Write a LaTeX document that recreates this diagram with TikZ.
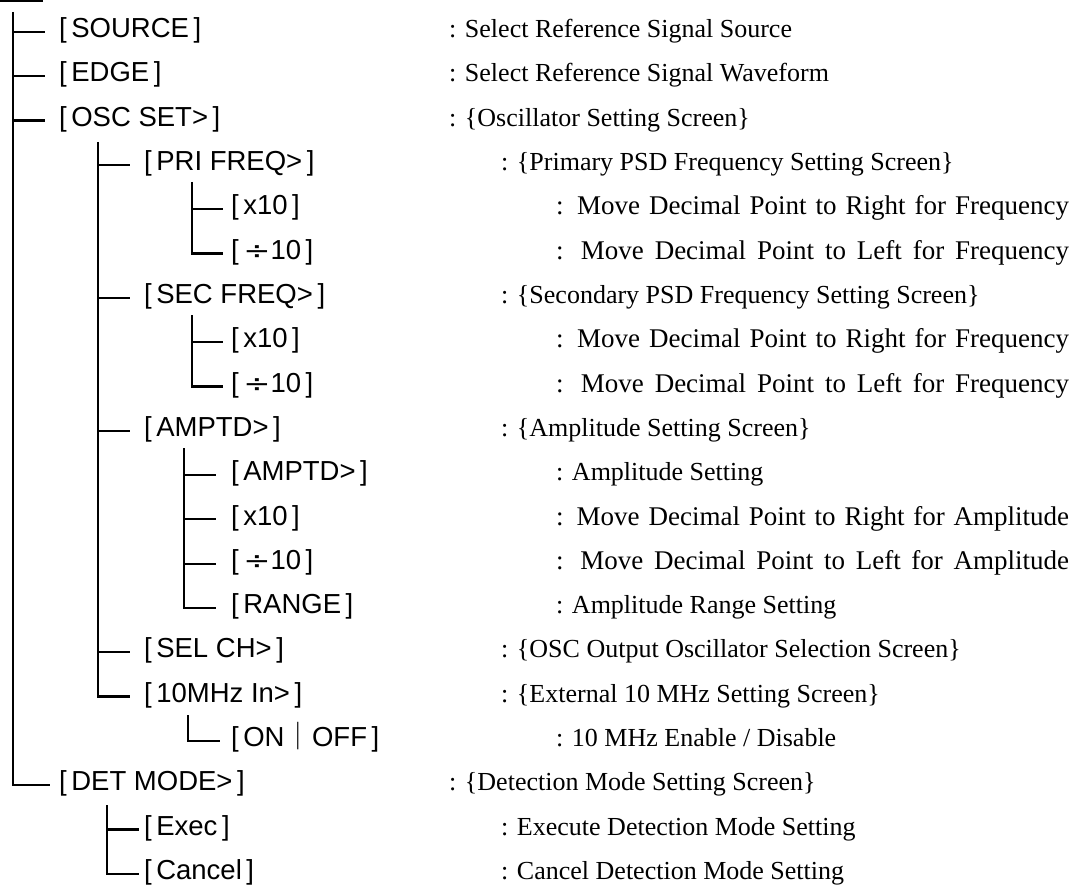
\documentclass[tikz,border=0pt]{standalone}
\usepackage{fontspec}
\usepackage{graphicx}
\setmainfont{Liberation Serif}
\setsansfont{Liberation Sans}
\newfontfamily\cjkf{Noto Sans CJK JP}
\newfontfamily\dvs{DejaVu Sans}
\newcommand{\dvd}{{\dvs\fontsize{25}{30}\selectfont\scalebox{1.3}[1]{÷}}}
\newcommand{\fillline}[1]{{\fontsize{27}{30}\selectfont\makebox[513pt][s]{#1}}}
\begin{document}
\begin{tikzpicture}[x=1pt,y=-1pt,line width=2.2pt,
  key/.style={font=\sffamily\fontsize{27.5}{30}\selectfont,inner sep=0pt,anchor=west,text height=17pt,text depth=5.6pt},
  desc/.style={font=\rmfamily\fontsize{26}{30}\selectfont,inner sep=0pt,anchor=west,text height=17pt,text depth=5.6pt}]
\useasboundingbox (0,0) rectangle (1073,885);
\fill (0,0) rectangle (43,2.5);
% keys
\node[key] (src) at (58,32.0) {[\,SOURCE\,]};
\node[key] (edge) at (58,76.3) {[\,EDGE\,]};
\node[key] (osc) at (58,120.6) {[\,OSC SET>\,]};
\node[key] (pri) at (143,164.9) {[\,PRI FREQ>\,]};
\node[key] (px) at (230,209.2) {[\,x10\,]};
\node[key] (pd) at (230,253.5) {[\,\dvd10\,]};
\node[key] (sec) at (143,297.8) {[\,SEC FREQ>\,]};
\node[key] (sx) at (230,342.1) {[\,x10\,]};
\node[key] (sd) at (230,386.4) {[\,\dvd10\,]};
\node[key] (amp) at (143,430.7) {[\,AMPTD>\,]};
\node[key] (aa) at (230,475.0) {[\,AMPTD>\,]};
\node[key] (ax) at (230,519.3) {[\,x10\,]};
\node[key] (ad) at (230,563.6) {[\,\dvd10\,]};
\node[key] (ar) at (230,607.9) {[\,RANGE\,]};
\node[key] (sel) at (143,652.2) {[\,SEL CH>\,]};
\node[key] (mhz) at (143,696.5) {[\,10MHz In>\,]};
\node[key] (onoff) at (230,740.8) {[\,ON{\cjkf ｜}OFF\,]};
\node[key] (det) at (58,785.1) {[\,DET MODE>\,]};
\node[key] (exec) at (143,829.4) {[\,Exec\,]};
\node[key] (canc) at (143,873.7) {[\,Cancel\,]};
% descriptions
\node[desc] (dsrc) at (448,32.0) {: Select Reference Signal Source};
\node[desc] (dedge) at (448,76.3) {: Select Reference Signal Waveform};
\node[desc] (dosc) at (448,120.6) {: \{Oscillator Setting Screen\}};
\node[desc] (dpri) at (500,164.9) {: \{Primary PSD Frequency Setting Screen\}};
\node[desc] (dpx) at (555,209.2) {\fillline{: Move Decimal Point to Right for Frequency}};
\node[desc] (dpd) at (555,253.5) {\fillline{: Move Decimal Point to Left for Frequency}};
\node[desc] (dsec) at (500,297.8) {: \{Secondary PSD Frequency Setting Screen\}};
\node[desc] (dsx) at (555,342.1) {\fillline{: Move Decimal Point to Right for Frequency}};
\node[desc] (dsd) at (555,386.4) {\fillline{: Move Decimal Point to Left for Frequency}};
\node[desc] (damp) at (500,430.7) {: \{Amplitude Setting Screen\}};
\node[desc] (daa) at (555,475.0) {: Amplitude Setting};
\node[desc] (dax) at (555,519.3) {\fillline{: Move Decimal Point to Right for Amplitude}};
\node[desc] (dad) at (555,563.6) {\fillline{: Move Decimal Point to Left for Amplitude}};
\node[desc] (dar) at (555,607.9) {: Amplitude Range Setting};
\node[desc] (dsel) at (500,652.2) {: \{OSC Output Oscillator Selection Screen\}};
\node[desc] (dmhz) at (500,696.5) {: \{External 10 MHz Setting Screen\}};
\node[desc] (donoff) at (555,740.8) {: 10 MHz Enable / Disable};
\node[desc] (ddet) at (448,785.1) {: \{Detection Mode Setting Screen\}};
\node[desc] (dexec) at (500,829.4) {: Execute Detection Mode Setting};
\node[desc] (dcanc) at (500,873.7) {: Cancel Detection Mode Setting};
% tree lines
\coordinate (m0) at (13,12);
\coordinate (o0) at (98,142);
\coordinate (p0) at (192,182);
\coordinate (s0) at (192,315);
\coordinate (a0) at (184,448);
\coordinate (z0) at (188,715);
\coordinate (d0) at (107,805);
\draw (m0) |- ([xshift=-8pt]det.west);
\foreach \n in {src,edge,osc} \draw (m0 |- \n.west) -- ([xshift=-13pt]\n.west);
\draw (o0) |- ([xshift=-13pt]mhz.west);
\foreach \n in {pri,sec,amp,sel} \draw (o0 |- \n.west) -- ([xshift=-13pt]\n.west);
\draw (p0) |- ([xshift=-7pt]pd.west);
\draw (p0 |- px.west) -- ([xshift=-7pt]px.west);
\draw (s0) |- ([xshift=-7pt]sd.west);
\draw (s0 |- sx.west) -- ([xshift=-7pt]sx.west);
\draw (a0) |- ([xshift=-14pt]ar.west);
\foreach \n in {aa,ax,ad} \draw (a0 |- \n.west) -- ([xshift=-14pt]\n.west);
\draw (z0) |- ([xshift=-10pt]onoff.west);
\draw (d0) |- ([xshift=-4pt]canc.west);
\draw (d0 |- exec.west) -- ([xshift=-4pt]exec.west);
\end{tikzpicture}
\end{document}
